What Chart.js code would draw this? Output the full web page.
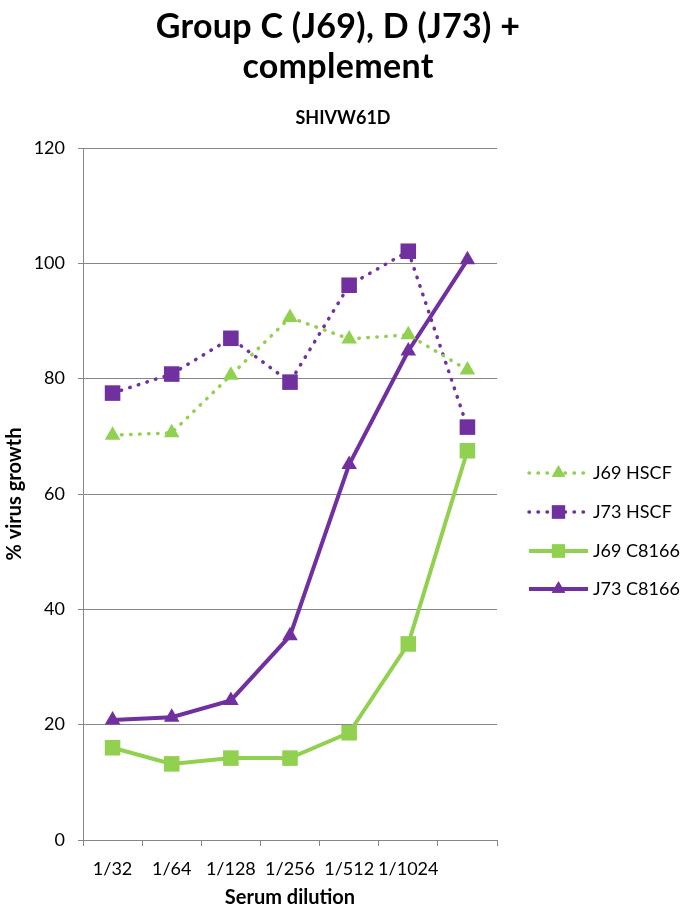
<!DOCTYPE html>
<html>
<head>
<meta charset="utf-8">
<script src="https://cdn.jsdelivr.net/npm/chart.js@4.4.1/dist/chart.umd.min.js"></script>
<style>
  html, body { margin: 0; padding: 0; background: #fff; }
  #wrap { position: relative; width: 687px; height: 910px; }
  #title { position: absolute; left: 88px; width: 500px; top: 5px; text-align: center;
           font: bold 34px Lato, sans-serif; line-height: 40px; letter-spacing: 0.3px; color: #000; }
  #subtitle { position: absolute; left: 243px; width: 200px; top: 106px; text-align: center;
              font: bold 18px Lato, sans-serif; color: #000; }
</style>
</head>
<body>
<div id="wrap">
  <canvas id="chart" width="687" height="910"></canvas>
  <div id="title">Group C (J69), D (J73) +<br>complement</div>
  <div id="subtitle">SHIVW61D</div>
</div>
<script>
// ── Data ──────────────────────────────────────────────────
const dilutions   = ['1/32', '1/64', '1/128', '1/256', '1/512', '1/1024', ''];
const j69Hscf     = [70.2, 70.6, 80.6, 90.6, 86.9, 87.6, 81.5];
const j73Hscf     = [77.5, 80.8, 87.0, 79.4, 96.2, 102.1, 71.6];
const j69C8166    = [16.0, 13.2, 14.2, 14.2, 18.6, 34.0, 67.5];
const j73C8166    = [20.8, 21.3, 24.2, 35.4, 65.1, 84.8, 100.6];
const yTicks      = [0, 20, 40, 60, 80, 100, 120];

const GREEN  = '#92D050';
const PURPLE = '#7030A0';
const FONT   = 'Lato, sans-serif';

const dotted = { borderWidth: 3.5, borderDash: [0.5, 8.5], borderCapStyle: 'round' };
const solid  = { borderWidth: 4 };

const datasets = [
  { label: 'J69 HSCF',  data: j69Hscf,  borderColor: GREEN,  backgroundColor: GREEN,  pointStyle: 'triangle', pointRadius: 9, ...dotted },
  { label: 'J73 HSCF',  data: j73Hscf,  borderColor: PURPLE, backgroundColor: PURPLE, pointStyle: 'rect',     pointRadius: 11, ...dotted },
  { label: 'J69 C8166', data: j69C8166, borderColor: GREEN,  backgroundColor: GREEN,  pointStyle: 'rect',     pointRadius: 11, ...solid },
  { label: 'J73 C8166', data: j73C8166, borderColor: PURPLE, backgroundColor: PURPLE, pointStyle: 'triangle', pointRadius: 9, ...solid },
];
datasets.forEach(d => { d.pointBorderWidth = 0; d.tension = 0; d.fill = false; });

// ── Legend drawn with line + marker like the original ─────
const lineLegend = {
  id: 'lineLegend',
  afterDraw(chart) {
    const ctx = chart.ctx;
    const x0 = 529, x1 = 588, tx = 593;
    const ys = [473, 512, 551, 589];
    chart.data.datasets.forEach((ds, i) => {
      const y = ys[i];
      ctx.save();
      ctx.strokeStyle = ds.borderColor;
      ctx.lineWidth = ds.borderWidth;
      ctx.lineCap = ds.borderCapStyle || 'butt';
      ctx.setLineDash(ds.borderDash || []);
      ctx.beginPath();
      ctx.moveTo(x0, y);
      ctx.lineTo(x1, y);
      ctx.stroke();
      ctx.setLineDash([]);
      ctx.fillStyle = ds.backgroundColor;
      Chart.helpers.drawPoint(ctx, { pointStyle: ds.pointStyle, radius: ds.pointRadius * 0.85, borderWidth: 0 }, (x0 + x1) / 2, y);
      ctx.fill();
      ctx.fillStyle = '#000';
      ctx.font = '18px ' + FONT;
      ctx.textBaseline = 'middle';
      ctx.fillText(ds.label, tx, y);
      ctx.restore();
    });
  }
};

new Chart(document.getElementById('chart'), {
  type: 'line',
  data: { labels: dilutions, datasets },
  plugins: [lineLegend],
  options: {
    responsive: false,
    animation: false,
    layout: { padding: { top: 148, right: 190, left: 0, bottom: 0 } },
    plugins: { legend: { display: false }, tooltip: { enabled: false } },
    scales: {
      x: {
        offset: true,
        grid: { offset: true, drawOnChartArea: false, drawTicks: true, tickLength: 6, color: '#868686' },
        border: { color: '#868686', width: 1 },
        ticks: { color: '#000', font: { family: FONT, size: 18 }, autoSkip: false, maxRotation: 0, padding: 12 },
        title: { display: true, text: 'Serum dilution', color: '#000', font: { family: FONT, size: 20, weight: 'bold' }, padding: { top: 0, bottom: 0 } },
        afterFit: s => { s.height = 70; },
      },
      y: {
        min: 0, max: 120,
        afterBuildTicks: s => { s.ticks = yTicks.map(v => ({ value: v })); },
        grid: { color: '#868686', drawTicks: true, tickLength: 5 },
        border: { color: '#868686', width: 1 },
        ticks: { color: '#000', font: { family: FONT, size: 18 }, padding: 13 },
        title: { display: true, text: '% virus growth', color: '#000', font: { family: FONT, size: 20, weight: 'bold' }, padding: { top: 3, bottom: 0 } },
        afterFit: s => { s.width = 83; },
      }
    }
  }
});
</script>
</body>
</html>
